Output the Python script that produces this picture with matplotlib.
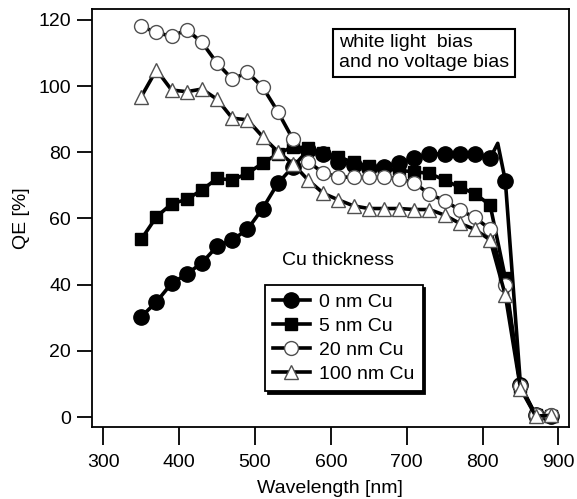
import matplotlib
matplotlib.use("Agg")
import matplotlib.pyplot as plt

plt.rcParams['font.family'] = ['Liberation Sans', 'DejaVu Sans']

# wavelengths [nm]
wl = [350, 370, 390, 410, 430, 450, 470, 490, 510, 530, 550, 570, 590, 610,
      630, 650, 670, 690, 710, 730, 750, 770, 790, 810, 830, 850, 870, 890]
wl_0nm = [350, 370, 390, 410, 430, 450, 470, 490, 510, 530, 550, 570, 590, 610,
          630, 650, 670, 690, 710, 730, 750, 770, 790, 810, 820, 830, 850, 870, 890]

qe_0nm = [30.3, 34.8, 40.4, 43.2, 46.6, 51.6, 53.5, 56.7, 63.0, 70.6, 75.6, 80.7,
          79.5, 77.2, 76.2, 75.2, 75.6, 76.7, 78.2, 79.5, 79.5, 79.5, 79.5, 78.2,
          82.7, 71.4, 9.6, 0.5, 0.3]
qe_5nm = [53.7, 60.5, 64.4, 65.8, 68.6, 72.1, 71.6, 73.6, 76.7, 79.5, 81.7, 81.2,
          79.9, 78.5, 77.0, 75.8, 75.0, 74.5, 74.1, 73.6, 71.6, 69.4, 67.5, 64.0,
          42.0, 9.0, 0.5, 0.3]
qe_20nm = [118.0, 116.2, 115.0, 117.0, 113.2, 106.9, 102.1, 104.1, 99.7, 92.3, 83.9,
           77.2, 73.7, 72.6, 72.4, 72.4, 72.4, 72.0, 70.8, 67.3, 65.4, 62.5, 60.3,
           56.7, 40.0, 9.5, 0.6, 0.5]
qe_100nm = [96.8, 104.9, 98.8, 98.3, 99.1, 96.0, 90.3, 89.8, 84.7, 80.2, 76.5, 71.6,
            67.6, 65.6, 63.8, 63.0, 63.0, 63.0, 62.7, 62.7, 61.0, 58.5, 56.7, 53.5,
            36.8, 8.6, 0.3, 0.5]

labels = ["0 nm Cu", "5 nm Cu", "20 nm Cu", "100 nm Cu"]
xticks = [300, 400, 500, 600, 700, 800, 900]
yticks = [0, 20, 40, 60, 80, 100, 120]

fig = plt.figure(figsize=(5.77, 4.99), dpi=100)
ax = fig.add_axes([0.159, 0.1437, 0.8272, 0.8377])

lw = 2.6
marks_0 = [i for i in range(len(wl_0nm)) if wl_0nm[i] != 820]
ax.plot(wl_0nm, qe_0nm, color='black', lw=lw, marker='o', ms=11,
        mfc='black', mec='black', markevery=marks_0, label=labels[0])
ax.plot(wl, qe_5nm, color='black', lw=lw, marker='s', ms=8.3,
        mfc='black', mec='black', label=labels[1])
ax.plot(wl, qe_20nm, color='black', lw=lw, marker='o', ms=10,
        mfc='white', mec='#505050', mew=1.0, label=labels[2])
ax.plot(wl, qe_100nm, color='black', lw=lw, marker='^', ms=10,
        mfc='white', mec='#505050', mew=1.0, label=labels[3])

ax.set_xlim(284.7, 914)
ax.set_ylim(-3.1, 123.2)
ax.set_xticks(xticks)
ax.set_yticks(yticks)
ax.tick_params(direction='out', length=11, width=1.3, labelsize=14, pad=4,
               colors='black')
ax.tick_params(axis='x', length=13, pad=6)
for s in ax.spines.values():
    s.set_linewidth(1.3)

ax.set_xlabel("Wavelength [nm]", fontsize=14, labelpad=7)
fig.text(21 / 577, 1 - 218 / 499, "QE [%]", rotation=90, fontsize=14,
         ha='center', va='center')

ax.text(0.5187, 0.940, "white light  bias\nand no voltage bias",
        transform=ax.transAxes, fontsize=14, ha='left', va='top',
        linespacing=1.22,
        bbox=dict(boxstyle='square,pad=0.3', fc='white', ec='black', lw=1.5))

ax.text(610, 47.4, "Cu thickness", fontsize=14, ha='center', va='center')

leg = ax.legend(loc='upper left', bbox_to_anchor=(0.363, 0.340),
                borderaxespad=0, fontsize=14, handlelength=1.9,
                labelspacing=0.34, handletextpad=0.5, borderpad=0.4,
                frameon=True, fancybox=False, shadow={'color': 'black', 'alpha': 1})
leg.get_frame().set_edgecolor('black')
leg.get_frame().set_linewidth(1.3)

fig.savefig("out.png", dpi=100)
